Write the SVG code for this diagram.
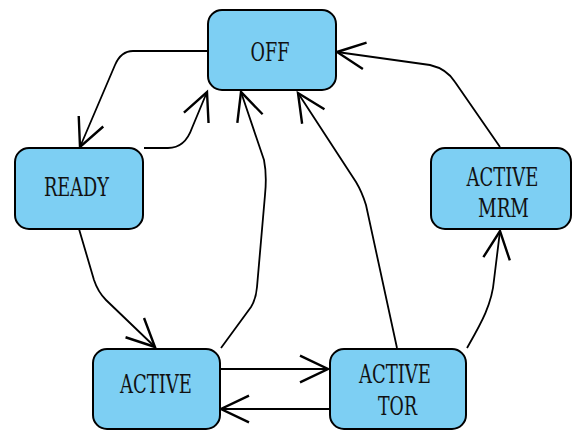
<svg xmlns="http://www.w3.org/2000/svg" width="576" height="431" viewBox="0 0 576 431">
<style>
.box{fill:#7dcff3;stroke:#000;stroke-width:2}
.lbl{font-family:"DejaVu Serif","Liberation Serif",serif;font-size:25.5px;fill:#111;text-anchor:middle}
.edge{fill:none;stroke:#000;stroke-width:1.8;marker-end:url(#arr)}
</style>
<defs>
<marker id="arr" markerUnits="userSpaceOnUse" orient="auto" markerWidth="40" markerHeight="40" refX="0" refY="0" viewBox="-25 -15 30 30" overflow="visible">
<path d="M-21,-10 L0,0 L-21,10" fill="none" stroke="#000" stroke-width="1.8"/>
</marker>
</defs>
<rect width="576" height="431" fill="#fff"/>
<g id="connectors">
<path class="edge" d="M208,51 L133,51 Q121,51 115,65 L80,147"/>
<path class="edge" d="M144,148 L168,148 Q185,148 192,128 L207,92"/>
<path class="edge" d="M221,348 L251,307 Q256,299 257,287 L265,195 Q267,175 264,160 L241,92"/>
<path class="edge" d="M397,348 L366,205 Q362,192 356,182 L298,93"/>
<path class="edge" d="M500,147 L455,82 Q447,69 430,65 L337,52"/>
<path class="edge" d="M79,229 L94,280 Q98,292 106,300 L155,347"/>
<path class="edge" d="M221,369 L328,369"/>
<path class="edge" d="M330,409 L221,409"/>
<path class="edge" d="M467,348 C480,325 492,305 494,280 L500,231"/>
</g>
<g id="off">
<rect class="box" x="208" y="10" width="128" height="80" rx="14"/>
<text class="lbl" x="270" y="61" textLength="39" lengthAdjust="spacingAndGlyphs">OFF</text>
</g>
<g id="ready">
<rect class="box" x="15" y="148" width="128" height="81" rx="14"/>
<text class="lbl" x="76.5" y="196" textLength="65" lengthAdjust="spacingAndGlyphs">READY</text>
</g>
<g id="active">
<rect class="box" x="93" y="349" width="127" height="80" rx="14"/>
<text class="lbl" x="156" y="393" textLength="72" lengthAdjust="spacingAndGlyphs">ACTIVE</text>
</g>
<g id="active-tor">
<rect class="box" x="330" y="349" width="136" height="80" rx="14"/>
<text class="lbl" x="395" y="383" textLength="72" lengthAdjust="spacingAndGlyphs">ACTIVE</text>
<text class="lbl" x="397.5" y="415" textLength="39" lengthAdjust="spacingAndGlyphs">TOR</text>
</g>
<g id="active-mrm">
<rect class="box" x="431" y="148" width="140" height="81" rx="14"/>
<text class="lbl" x="502.5" y="186" textLength="72" lengthAdjust="spacingAndGlyphs">ACTIVE</text>
<text class="lbl" x="503.5" y="217" textLength="51" lengthAdjust="spacingAndGlyphs">MRM</text>
</g>
</svg>
